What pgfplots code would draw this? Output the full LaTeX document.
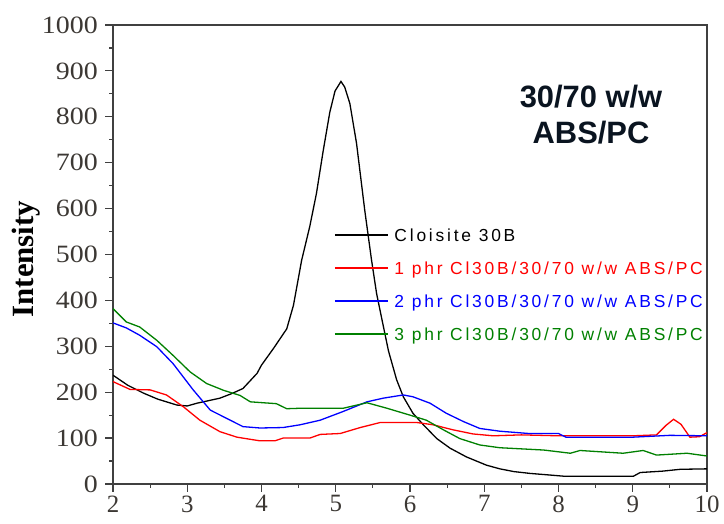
\documentclass[border=0pt]{standalone}
\usepackage{pgfplots}
\pgfplotsset{compat=1.18}
\usepackage{fontspec}
\setmainfont{Liberation Serif}
\newfontfamily\arialfont{Liberation Sans}
\newfontfamily\legfont[LetterSpace=16]{Liberation Sans}
\definecolor{cgreen}{RGB}{0,128,0}
\definecolor{ctitle}{RGB}{10,20,32}
\definecolor{ctick}{RGB}{60,56,52}
\newcommand{\legline}{\rule[5.5bp]{53bp}{1.5bp}\hspace{6.5bp}}
\begin{document}
\begin{tikzpicture}[x=1bp,y=1bp]
\useasboundingbox (0,0) rectangle (724,524);
\begin{axis}[
  at={(113bp,40bp)}, anchor=south west,
  width=594bp, height=459bp, scale only axis,
  xmin=2, xmax=10, ymin=0, ymax=1000,
  xtick={2,3,...,10}, ytick={0,100,...,1000},
  minor x tick num=1, minor y tick num=1,
  tick pos=left, tick align=outside,
  major tick length=8bp, minor tick length=4bp,
  axis line style={line width=1.5bp, black!75},
  tick style={line width=1.2bp, black!75},
  /pgf/number format/assume math mode=true,
  /pgf/number format/set thousands separator={},
  ticklabel style={font=\fontsize{25}{25}\selectfont, text=ctick},
  yticklabel style={xscale=1.12, xshift=-3bp},
  ylabel={Intensity},
  ylabel style={at={(axis description cs:-0.147,0.49)}, anchor=center, font=\fontsize{31}{31}\selectfont\bfseries},
  legend style={at={(axis description cs:0.3737,0.5566)}, anchor=north west, draw=none, fill=none, inner sep=0pt, outer sep=0pt,
    font=\legfont\fontsize{17.5}{18}\selectfont, row sep=17bp,
    nodes={inner sep=0pt, text height=12.5bp, text depth=3.5bp},
    /tikz/every odd column/.append style={column sep=0bp}},
  legend image code/.code={},
  legend cell align=left,
  every axis plot/.append style={line width=1.3bp, sharp plot},
]
\addplot[black] table {
2.00 237
2.20 215
2.41 198
2.60 185
2.86 172
3.00 170
3.13 176
3.30 182
3.44 187
3.60 197
3.75 208
3.94 241
4.00 259
4.16 295
4.34 338
4.43 389
4.54 487
4.65 561
4.74 633
4.83 725
4.92 810
4.99 856
5.07 877
5.12 865
5.19 829
5.28 742
5.39 597
5.48 490
5.55 415
5.62 360
5.71 290
5.82 227
5.91 190
6.04 154
6.18 129
6.36 99
6.54 78
6.76 59
7.03 41
7.21 33
7.40 27
7.62 23
7.85 20
8.07 17
8.50 17
9.01 17
9.10 25
9.40 28
9.64 32
10.00 33
};
\addlegendentry{\textcolor{black}{\legline Cloisite 30B}}
\addplot[red] table {
2.00 223
2.23 206
2.50 205
2.72 194
2.95 168
3.17 139
3.44 114
3.67 102
3.98 94
4.18 94
4.29 100
4.65 100
4.79 108
5.06 110
5.33 123
5.60 134
6.09 134
6.31 129
6.58 118
6.85 109
7.12 105
7.50 107
8.00 105
8.50 105
9.00 105
9.32 107
9.45 128
9.55 141
9.65 130
9.77 102
9.90 103
10.00 112
};
\addlegendentry{\textcolor{red}{\legline 1 phr Cl30B/30/70 w/w ABS/PC}}
\addplot[blue] table {
2.00 351
2.18 340
2.36 324
2.59 299
2.81 262
3.08 205
3.31 161
3.53 143
3.75 125
3.98 122
4.29 123
4.52 129
4.79 139
5.10 158
5.42 179
5.64 187
5.91 194
6.04 190
6.27 176
6.49 154
6.72 136
6.94 121
7.21 115
7.60 110
8.00 110
8.10 102
9.00 102
9.50 106
10.00 105
};
\addlegendentry{\textcolor{blue}{\legline 2 phr Cl30B/30/70 w/w ABS/PC}}
\addplot[cgreen] table {
2.00 382
2.18 353
2.36 342
2.59 313
2.81 280
3.04 244
3.26 219
3.49 204
3.71 193
3.85 179
4.20 175
4.34 164
4.52 165
5.10 165
5.42 177
5.69 165
6.00 150
6.22 139
6.45 118
6.67 99
6.94 85
7.21 79
7.80 74
8.16 67
8.29 73
8.87 67
9.14 73
9.32 63
9.73 67
10.00 61
};
\addlegendentry{\textcolor{cgreen}{\legline 3 phr Cl30B/30/70 w/w ABS/PC}}
\end{axis}
\node[align=center, text=ctitle, font=\arialfont\bfseries\fontsize{31}{36}\selectfont] at (591,409) {30/70 w/w\\ABS/PC};
\end{tikzpicture}
\end{document}
